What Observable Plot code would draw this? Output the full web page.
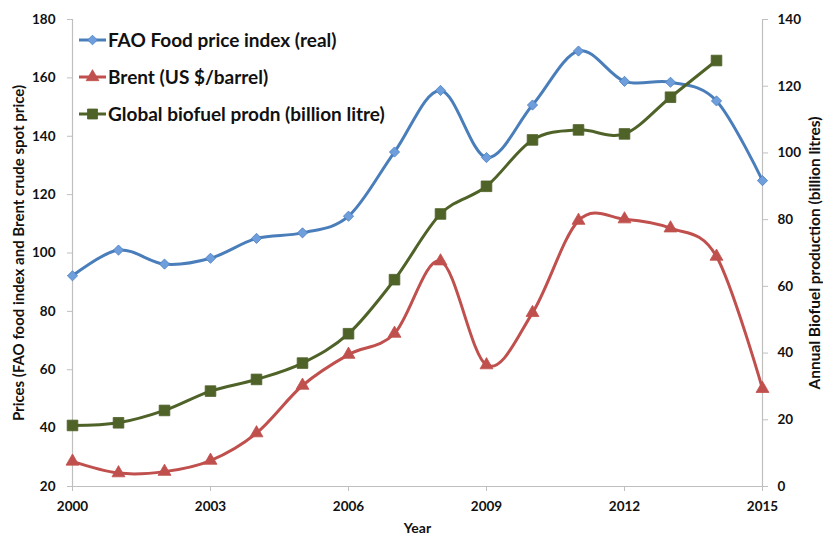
<!DOCTYPE html>
<html>
<head>
<meta charset="utf-8">
<script src="https://cdn.jsdelivr.net/npm/d3@7"></script>
<script src="https://cdn.jsdelivr.net/npm/@observablehq/plot@0.6"></script>
<style>
  html, body { margin: 0; padding: 0; background: #fff; }
  #wrap { position: relative; width: 823px; height: 535px; font-family: Lato, "Open Sans", sans-serif; }
  #legend { position: absolute; left: 78px; top: 21px; }
  .entry { display: flex; align-items: center; height: 37px; font-weight: bold; font-size: 19px; color: #111; }
  .entry svg { margin-right: 1px; }
</style>
</head>
<body>
<div id="wrap"><div id="legend"></div></div>
<script>
const years = [2000, 2001, 2002, 2003, 2004, 2005, 2006, 2007, 2008, 2009, 2010, 2011, 2012, 2013, 2014, 2015];
const faoIndex = [92.2, 101, 96.2, 98.2, 105, 106.9, 112.6, 134.6, 155.7, 132.7, 150.7, 169.2, 158.8, 158.5, 152.1, 124.8];
const brent = [28.6, 24.6, 25.1, 28.9, 38.3, 54.6, 65.2, 72.4, 97.2, 61.6, 79.5, 111.1, 111.6, 108.5, 98.8, 53.5];
const biofuelYears = [2000, 2001, 2002, 2003, 2004, 2005, 2006, 2007, 2008, 2009, 2010, 2011, 2012, 2013, 2014];
const biofuel = [18.3, 19.1, 22.8, 28.6, 32.1, 37.0, 45.8, 62.0, 81.7, 90.0, 103.9, 106.9, 105.7, 116.7, 127.7];
const xTicks = [2000, 2003, 2006, 2009, 2012, 2015];
const leftTicks = [20, 40, 60, 80, 100, 120, 140, 160, 180];
const rightTicks = [0, 20, 40, 60, 80, 100, 120, 140];
const seriesNames = ["FAO Food price index (real)", "Brent (US $/barrel)", "Global biofuel prodn (billion litre)"];
const leftTitle = "Prices (FAO food index and Brent crude spot price)";
const rightTitle = "Annual Biofuel production (billion litres)";
const xTitle = "Year";

// right axis (0-140) mapped onto the left scale (20-180)
const toLeft = v => 20 + v * 160 / 140;
const fromLeft = v => (v - 20) * 140 / 160;

const faoData = years.map((y, i) => ({year: y, v: faoIndex[i]}));
const brentData = years.map((y, i) => ({year: y, v: brent[i]}));
const bioData = biofuelYears.map((y, i) => ({year: y, v: toLeft(biofuel[i])}));

const blue = "#4A7EBB", blueFill = "#6F9EDC";
const red = "#C0504D";
const green = "#4F6228";
const axisGray = "#BFBFBF";

const chart = Plot.plot({
  width: 823,
  height: 535,
  marginLeft: 72,
  marginRight: 61,
  marginTop: 19,
  marginBottom: 49,
  style: {fontFamily: "Lato, 'Open Sans', sans-serif", fontWeight: "bold", color: "#111", background: "#fff"},
  x: {domain: [2000, 2015]},
  y: {domain: [20, 180]},
  marks: [
    Plot.ruleX([2000], {stroke: axisGray, strokeWidth: 1.2}),
    Plot.ruleX([2015], {stroke: axisGray, strokeWidth: 1.2}),
    Plot.ruleY([20], {stroke: axisGray, strokeWidth: 1.2}),
    Plot.axisY({ticks: leftTicks, tickSize: 5, tickPadding: 12, fontSize: 13.5, stroke: axisGray, fill: "#111", label: null}),
    Plot.axisY({ticks: [], tickSize: 0, fontSize: 15, fill: "#111",
      label: leftTitle, labelAnchor: "center", labelArrow: "none", labelOffset: 59}),
    Plot.axisY({
      anchor: "right", ticks: rightTicks.map(toLeft), tickFormat: d => String(Math.round(fromLeft(d))),
      tickSize: 5, tickPadding: 10, fontSize: 13.5, stroke: axisGray, fill: "#111", label: null
    }),
    Plot.axisY({anchor: "right", ticks: [], tickSize: 0, fontSize: 15.5, fill: "#111",
      label: rightTitle, labelAnchor: "center", labelArrow: "none", labelOffset: 57}),
    Plot.axisX({
      ticks: xTicks, tickFormat: d => String(d), tickSize: 5, tickPadding: 10, fontSize: 13.5, stroke: axisGray, fill: "#111", label: null
    }),
    Plot.axisX({ticks: [], tickSize: 0, fontSize: 14, fill: "#111",
      label: xTitle, labelAnchor: "center", labelArrow: "none", labelOffset: 46}),
    Plot.line(faoData, {x: "year", y: "v", stroke: blue, strokeWidth: 3, curve: "cardinal"}),
    Plot.line(brentData, {x: "year", y: "v", stroke: red, strokeWidth: 3, curve: "cardinal"}),
    Plot.line(bioData, {x: "year", y: "v", stroke: green, strokeWidth: 3, curve: "cardinal"}),
    Plot.dot(faoData, {x: "year", y: "v", symbol: "diamond2", r: 4.6, fill: blueFill, stroke: blue, strokeWidth: 0.8}),
    Plot.dot(brentData, {x: "year", y: "v", symbol: "triangle", r: 4.8, fill: red, stroke: red, strokeWidth: 0.8}),
    Plot.dot(bioData, {x: "year", y: "v", symbol: "square", r: 6, fill: green, stroke: green, strokeWidth: 0.8})
  ]
});
document.getElementById("wrap").prepend(chart);

// legend overlay
const legend = d3.select("#legend");
const legendSpec = [
  {name: seriesNames[0], stroke: blue, fill: blueFill, symbol: d3.symbolDiamond2, size: 60},
  {name: seriesNames[1], stroke: red, fill: red, symbol: d3.symbolTriangle, size: 70},
  {name: seriesNames[2], stroke: green, fill: green, symbol: d3.symbolSquare, size: 100}
];
legendSpec.forEach(s => {
  const e = legend.append("div").attr("class", "entry");
  const svg = e.append("svg").attr("width", 29).attr("height", 16);
  svg.append("line").attr("x1", 1).attr("x2", 28).attr("y1", 8).attr("y2", 8).attr("stroke", s.stroke).attr("stroke-width", 3);
  svg.append("path").attr("d", d3.symbol(s.symbol, s.size)()).attr("transform", "translate(14.5,8)")
    .attr("fill", s.fill).attr("stroke", s.stroke).attr("stroke-width", 0.8);
  e.append("span").text(s.name);
});
</script>
</body>
</html>
